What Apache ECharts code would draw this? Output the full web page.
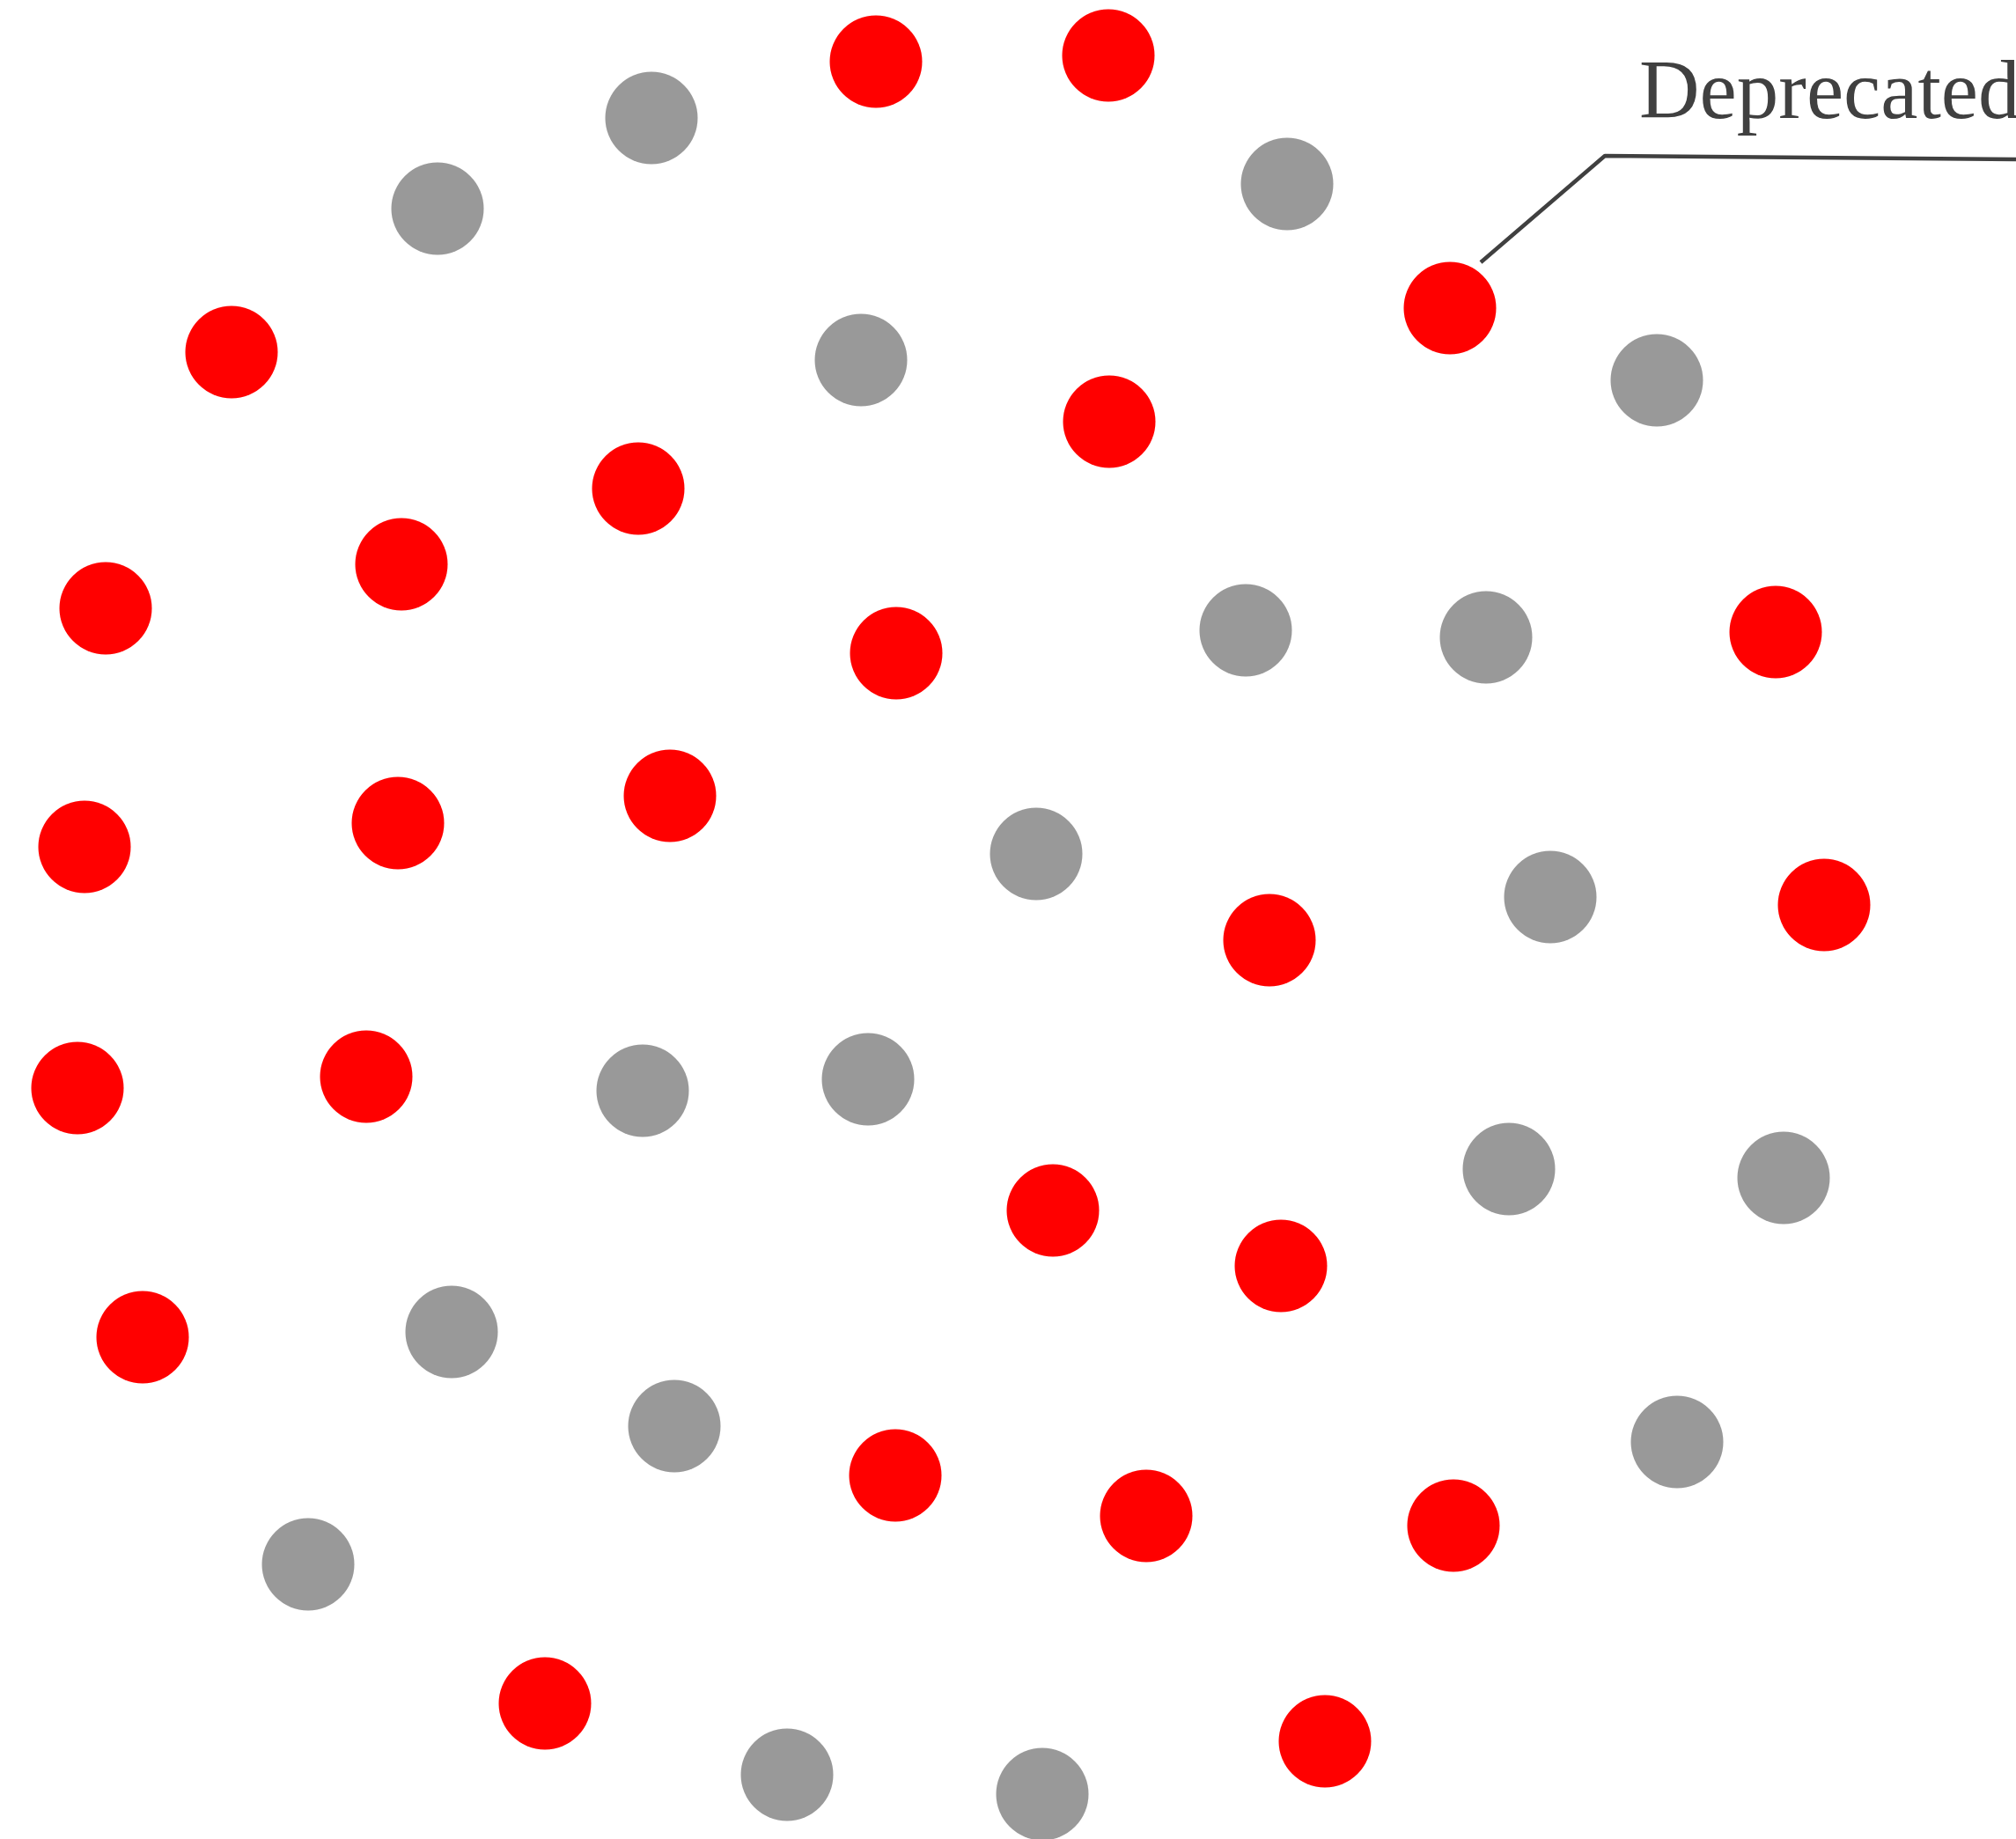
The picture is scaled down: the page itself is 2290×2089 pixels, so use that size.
<!DOCTYPE html>
<html>
<head>
<meta charset="utf-8">
<script src="https://cdn.jsdelivr.net/npm/echarts@6/dist/echarts.min.js"></script>
<style>
html,body{margin:0;padding:0;background:#fff;}
#chart{width:2290px;height:2089px;}
</style>
</head>
<body>
<div id="chart"></div>
<script>
// Red dots (x, y)
const redX = [995, 1259, 263, 1647, 1260, 725, 456, 120, 1018, 2017, 761, 452, 96, 1442, 2072, 88, 416, 1196, 1455, 162, 1017, 1302, 1651, 619, 1505];
const redY = [70, 63, 400, 350, 479, 555, 641, 691, 742, 718, 904, 935, 962, 1068, 1028, 1236, 1223, 1375, 1438, 1519, 1676, 1722, 1733, 1935, 1978];
// Gray dots (x, y)
const grayX = [740, 497, 1462, 978, 1882, 1415, 1688, 1177, 1761, 730, 986, 1714, 2026, 513, 766, 1905, 350, 894, 1184];
const grayY = [134, 237, 209, 409, 432, 716, 724, 970, 1019, 1239, 1226, 1328, 1338, 1513, 1620, 1638, 1777, 2016, 2038];
// Callout leader path and text
const calloutX = [1682, 1823, 2290];
const calloutY = [298, 177, 181];
const calloutText = 'Deprecated';
const calloutTextAnchor = [1862, 109];

const toPairs = (xs, ys) => xs.map((x, i) => [x, ys[i]]);

const chart = echarts.init(document.getElementById('chart'), null, {renderer: 'canvas'});
chart.setOption({
  animation: false,
  backgroundColor: '#ffffff',
  grid: {left: 0, right: 0, top: 0, bottom: 0},
  xAxis: {type: 'value', min: 0, max: 2290, show: false},
  yAxis: {type: 'value', min: 0, max: 2089, inverse: true, show: false},
  series: [
    {
      type: 'scatter', name: 'Active',
      data: toPairs(grayX, grayY),
      symbol: 'circle', symbolSize: 105,
      itemStyle: {color: '#999999', opacity: 1}
    },
    {
      type: 'scatter', name: 'Deprecated',
      data: toPairs(redX, redY),
      symbol: 'circle', symbolSize: 105,
      itemStyle: {color: '#ff0000', opacity: 1}
    },
    {
      type: 'line', name: 'callout',
      data: toPairs(calloutX, calloutY),
      symbol: 'none',
      lineStyle: {color: '#404040', width: 4.5},
      z: 5
    }
  ]
});
const p = chart.convertToPixel({gridIndex: 0}, calloutTextAnchor);
chart.setOption({
  graphic: [{
    type: 'text', x: p[0], y: p[1], z: 10,
    style: {
      text: calloutText,
      fill: '#404040',
      font: '95px "Liberation Serif", serif',
      textAlign: 'left',
      textVerticalAlign: 'middle'
    }
  }]
});
</script>
</body>
</html>
